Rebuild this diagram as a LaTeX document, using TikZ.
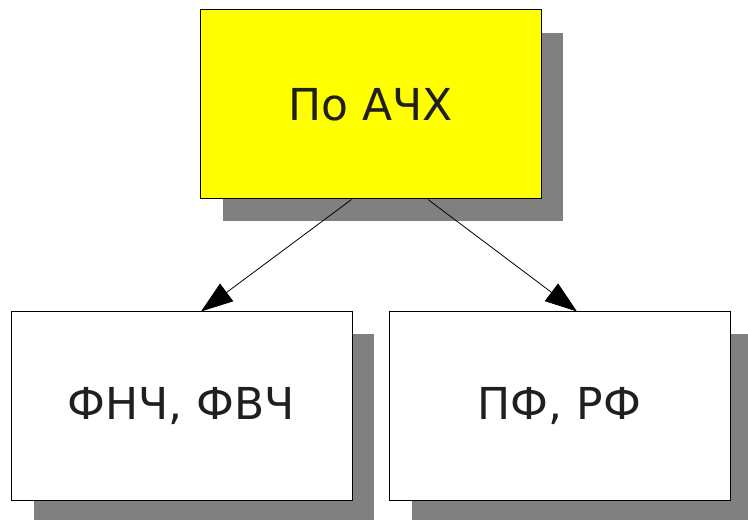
\documentclass[tikz,border=0pt]{standalone}
\usepackage{fontspec}
\setmainfont{DejaVu Sans}
\usetikzlibrary{arrows.meta,calc}
\definecolor{dropgray}{RGB}{128,128,128}
\definecolor{boxyellow}{RGB}{255,255,0}
\begin{document}
\begin{tikzpicture}[x=1pt,y=1pt,
  box/.style={draw=black,line width=1pt,minimum width=341pt,minimum height=189pt,
    inner sep=0pt,font=\fontsize{44}{52}\selectfont,text=black!88},
  dropshadow/.style={fill=dropgray},
  link/.style={line width=0.8pt,-{Triangle[length=32pt,width=22pt]}}]
  \useasboundingbox (0,0) rectangle (748,520);
  \fill[white] (0,0) rectangle (748,520);
  % drop shadows
  \path[dropshadow] (223,299) rectangle (563,487);
  \path[dropshadow] (34,0) rectangle (374,186);
  \path[dropshadow] (412,0) rectangle (748,186);
  % boxes
  \node[box,fill=boxyellow] (top) at (370.5,415.5) {По АЧХ};
  \node[box,fill=white] (left) at (181.5,113.5) {ФНЧ, ФВЧ};
  \node[box,fill=white] (right) at (559.5,113.5) {ПФ, РФ};
  % connectors
  \draw[link] ($(top.south)+(-19,0)$) -- ($(left.north)+(19.5,0)$);
  \draw[link] ($(top.south)+(57.5,0)$) -- ($(right.north)+(17.5,0)$);
\end{tikzpicture}
\end{document}
